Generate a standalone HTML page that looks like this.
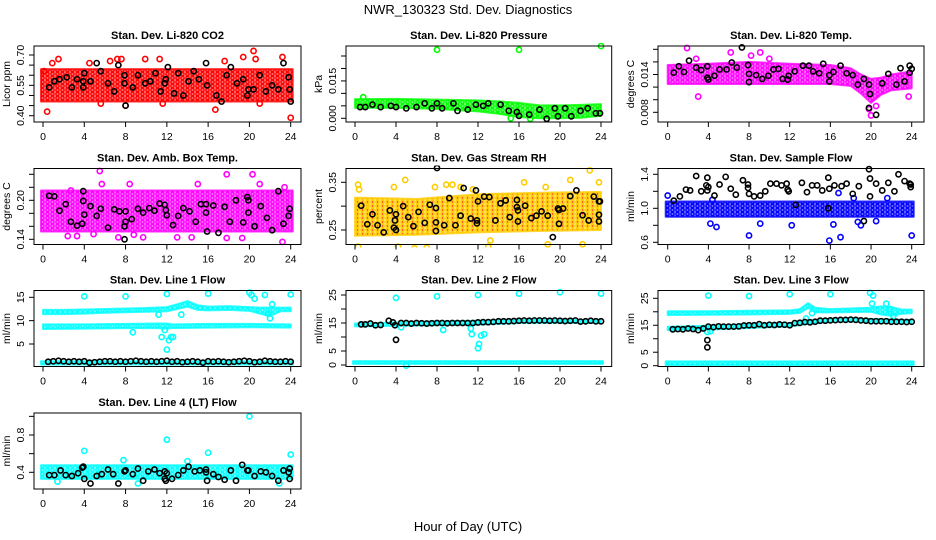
<!DOCTYPE html>
<html><head><meta charset="utf-8"><style>
html,body{margin:0;padding:0;background:#fff;}
svg{display:block;font-family:"Liberation Sans",sans-serif;}
</style></head><body>
<svg id="chart" width="936" height="540" viewBox="0 0 936 540" xmlns="http://www.w3.org/2000/svg">
<rect width="936" height="540" fill="#fff"/>
<text x="468" y="14" font-size="13" text-anchor="middle">NWR_130323  Std. Dev. Diagnostics</text>
<text x="468" y="531" font-size="13" text-anchor="middle">Hour of Day (UTC)</text>
<defs id="defs"></defs>
<g id="panels"></g>
</svg>
<script>
// ---------- shared axis data ----------
const xTicks = [0,4,8,12,16,20,24];

// P1 CO2
const p1BandX=[0,24], p1BandLo=[0.47,0.47], p1BandHi=[0.63,0.63];
const p1OutX=[0.1,0.4,0.9,1.5,4.5,6.5,7.2,7.6,8,9.9,11.3,11.6,16.7,17.6,19.4,20.4,20.6,23.2,24,21,5.6];
const p1OutY=[0.62,0.42,0.66,0.68,0.66,0.67,0.68,0.68,0.45,0.68,0.68,0.46,0.43,0.67,0.69,0.72,0.68,0.69,0.39,0.46,0.46];
const p1BlkX=[0.6,1.1,1.6,2.3,2.8,3.3,3.9,3.9,4,4.6,5.2,5.6,6.3,6.9,7.3,7.9,7.9,8,8.7,9.2,9.9,10.4,10.9,11.4,11.8,11.9,12.1,12.7,13.1,13.6,14.1,14.6,15.1,15.8,15.9,16.8,17.3,17.8,18.2,18.8,19.4,19.8,19.9,20.4,21,21.6,22.2,22.8,23.3,23.8,23.9,24];
const p1BlkY=[0.54,0.57,0.58,0.59,0.54,0.58,0.54,0.57,0.61,0.57,0.66,0.62,0.56,0.52,0.65,0.6,0.56,0.45,0.54,0.6,0.56,0.57,0.61,0.52,0.56,0.58,0.64,0.51,0.61,0.5,0.57,0.62,0.58,0.66,0.55,0.5,0.47,0.6,0.64,0.56,0.58,0.5,0.53,0.53,0.6,0.52,0.55,0.53,0.66,0.59,0.53,0.47];
const p1Ticks=[0.40,0.45,0.50,0.55,0.60,0.65,0.70], p1Labels=["0.40","","","0.55","","","0.70"];

// P2 pressure
const p2BandX=[0,4,8,12,14,16,18,20,22,24], p2BandLo=[0.0042,0.0042,0.0038,0.0028,0.0018,0.0005,0.0,0.0,0.0002,0.001], p2BandHi=[0.0077,0.0078,0.0075,0.0072,0.0068,0.0062,0.0052,0.0052,0.0054,0.0057];
const p2OutX=[8,16,24,0.8,15.2,17.1];
const p2OutY=[0.0275,0.0275,0.029,0.0085,0.0,-0.0002];
const p2BlkX=[0.5,1,1.7,2.5,3.5,4,5,6,6.8,7.5,8,8.5,9.6,10,11,11.8,12.5,13,14.2,15,15.8,16,17,18,18.7,19.5,19.8,20.5,21.1,22,22.7,23.5,23.9];
const p2BlkY=[0.0045,0.0045,0.0055,0.0045,0.005,0.0045,0.004,0.0045,0.006,0.004,0.006,0.004,0.006,0.003,0.0035,0.0055,0.005,0.006,0.0055,0.003,0.0025,0.001,0.0015,0.0035,-0.0002,0.004,0.0008,0.004,0.0008,0.003,0.004,0.002,0.002];
const p2Ticks=[0,0.005,0.010,0.015,0.020,0.025], p2Labels=["0.000","","","0.015","",""];

// P3 Li-820 temp
const p3BandX=[0,4,8,12,16,18,19,20,21,22,24], p3BandLo=[0.0125,0.0125,0.0125,0.0125,0.0125,0.0122,0.011,0.0095,0.0108,0.0115,0.0118], p3BandHi=[0.0155,0.0157,0.016,0.0157,0.0155,0.015,0.014,0.0133,0.0135,0.014,0.0145];
const p3OutX=[1.9,2.8,3,6.2,8.2,9.1,10,19.8,20,20.5,23.7];
const p3OutY=[0.0182,0.0165,0.0105,0.0175,0.017,0.0175,0.0165,0.0085,0.0075,0.009,0.0105];
const p3BlkX=[0.6,1.1,1.6,2.1,2.8,3.3,3.9,3.9,4,4.6,5.1,5.8,6.3,6.8,7.3,7.9,8,8,8.7,9.3,9.9,10.4,10.9,11.3,11.8,11.9,12.5,13.3,13.9,14.3,14.9,15.3,15.9,15.9,16.3,17,17.6,18.2,18.7,19.3,19.8,19.9,19.8,20.5,21.1,21.7,22.5,22.9,23.3,23.8,23.8,24];
const p3BlkY=[0.0143,0.0153,0.0144,0.0162,0.0151,0.0147,0.0153,0.0135,0.0132,0.0138,0.0148,0.0148,0.0159,0.0151,0.0183,0.0155,0.0141,0.0128,0.0139,0.0133,0.0138,0.0148,0.0149,0.0133,0.0132,0.0138,0.0145,0.0154,0.0154,0.0145,0.0142,0.0157,0.0139,0.0129,0.0144,0.0154,0.0142,0.0139,0.0124,0.0133,0.0124,0.0109,0.0087,0.0076,0.0126,0.0141,0.0124,0.015,0.0129,0.0143,0.0154,0.0149];
const p3Ticks=[0.008,0.010,0.012,0.014,0.016,0.018], p3Labels=["0.008","","","0.014","",""];

// P4 amb box temp
const p4BandX=[0,24], p4BandLo=[0.152,0.152], p4BandHi=[0.215,0.215];
const p4OutX=[5.5,5.7,2.7,8.4,15,17.8,20.3,21,23.4,23.2,3.3,2.4,7.3,9.7,14.4,17.8,19.3,13,8.8,4.9];
const p4OutY=[0.245,0.225,0.215,0.225,0.225,0.24,0.24,0.225,0.22,0.136,0.145,0.145,0.143,0.143,0.143,0.142,0.142,0.143,0.147,0.148];
const p4BlkX=[0.6,1.1,1.6,2.2,2.7,3.3,3.8,3.9,3.9,4,4.6,5.2,5.6,6.3,6.9,7.4,7.9,8,8,7.9,8.6,9.2,9.7,10.3,10.8,11.3,11.9,11.8,12,12.6,13.1,13.6,14.2,14.8,15.3,15.8,15.8,15.9,16.5,17,17.6,18.1,18.7,19.4,19.8,19.9,19.9,20.5,21.1,21.7,22.2,22.8,23.3,23.8,23.9];
const p4BlkY=[0.207,0.206,0.184,0.194,0.167,0.161,0.164,0.214,0.199,0.178,0.191,0.176,0.187,0.158,0.186,0.183,0.16,0.167,0.183,0.14,0.171,0.187,0.181,0.188,0.184,0.195,0.185,0.193,0.177,0.162,0.176,0.188,0.183,0.167,0.194,0.194,0.181,0.152,0.192,0.15,0.19,0.167,0.2,0.166,0.205,0.2,0.181,0.16,0.191,0.173,0.154,0.214,0.164,0.176,0.187];
const p4Ticks=[0.14,0.16,0.18,0.20,0.22,0.24], p4Labels=["0.14","","","0.20","",""];

// P5 gas stream RH
const p5BandX=[0,6,12,18,24], p5BandLo=[0.238,0.24,0.245,0.248,0.25], p5BandHi=[0.318,0.315,0.325,0.328,0.33];
const p5OutX=[0.3,0.4,0.3,1,3.8,4.2,4.9,5.8,7,7.8,8.9,9.5,10.3,11.5,13,13.2,16.5,18.6,18.8,21,22.2,22.9,23.8];
const p5OutY=[0.345,0.335,0.215,0.3,0.34,0.215,0.355,0.212,0.213,0.34,0.345,0.345,0.34,0.335,0.215,0.228,0.35,0.34,0.22,0.355,0.22,0.375,0.35];
const p5BlkX=[0.6,1.2,1.7,2.2,2.8,3.4,3.8,3.9,4,4,4.7,5.2,5.7,6.2,6.8,7.3,7.9,7.9,7.9,8,8.7,9.2,9.8,10.3,10.6,11.3,11.8,11.9,11.9,12,12.6,13.1,13.7,14.2,14.7,15.1,15.8,15.8,15.9,15.9,16.6,17.2,17.7,18.2,18.8,19.3,19.8,19.9,19.9,20.3,21,21.6,22.2,22.8,23.3,23.8,23.9,23.8,23.8];
const p5BlkY=[0.301,0.262,0.283,0.26,0.245,0.291,0.255,0.27,0.283,0.25,0.3,0.277,0.258,0.288,0.265,0.303,0.296,0.266,0.248,0.38,0.26,0.317,0.26,0.28,0.338,0.274,0.333,0.27,0.264,0.31,0.32,0.319,0.27,0.306,0.312,0.277,0.313,0.298,0.291,0.268,0.301,0.275,0.28,0.289,0.28,0.235,0.295,0.292,0.263,0.295,0.321,0.333,0.281,0.27,0.32,0.31,0.31,0.268,0.282];
const p5Ticks=[0.25,0.30,0.35], p5Labels=["0.25","","0.35"];

// P6 sample flow
const p6BandX=[0,24], p6BandLo=[0.9,0.9], p6BandHi=[1.08,1.08];
const p6OutX=[0,4.2,4.8,4.4,8,9.1,12.2,15.9,16.3,16.8,17,18.3,18.7,19,20.5,21.6,24];
const p6OutY=[1.15,0.82,0.78,1.1,0.68,0.82,0.8,0.62,0.81,1.18,0.66,1.12,0.84,0.8,0.85,1.12,0.68];
const p6BlkX=[0.6,1.2,1.8,2.2,2.8,3.3,3.8,3.9,3.9,4,4.6,5.1,5.7,6.2,6.7,7.4,7.9,7.9,8,8.5,9.1,9.6,10.1,10.7,11.2,11.7,11.8,11.9,12.6,13.2,13.7,14.2,14.7,15.2,15.8,15.9,15.8,16.4,17.1,17.6,18.2,18.8,19.3,19.8,19.9,19.9,20.5,21.1,21.7,22.3,22.7,23.3,23.8,23.9,23.9];
const p6BlkY=[1.09,1.14,1.22,1.21,1.38,1.2,1.27,1.36,1.21,1.25,1.15,1.28,1.37,1.23,1.16,1.33,1.28,1.24,1.17,1.14,1.15,1.2,1.29,1.29,1.27,1.29,1.22,1.2,1.04,1.3,1.19,1.27,1.27,1.21,1.36,1.23,1.0,1.27,1.26,1.29,1.17,1.26,0.85,1.46,1.14,1.35,1.29,1.21,1.3,1.2,1.4,1.32,1.29,1.25,1.28];
const p6Ticks=[0.6,0.8,1.0,1.2,1.4], p6Labels=["0.6","","1.0","","1.4"];

// P7 line 1 flow (three bands)
const p7BandX=[0,2,4,6,8,10,12,13,14,15,16,18,20,21,22,23,24], p7BandLo=[11.4,11.4,11.5,11.7,11.8,11.9,12.0,12.5,13.0,12.3,12.2,12.3,12.1,11.5,11.0,12.0,12.0], p7BandHi=[12.3,12.3,12.4,12.5,12.6,12.7,12.9,13.5,14.2,13.3,13.0,13.1,12.9,12.8,12.8,12.8,12.8];
const p7Band2X=[0,4,8,11,12,12.5,16,20,24], p7Band2Lo=[8.2,8.3,8.4,8.4,8.3,8.4,8.5,8.6,8.5], p7Band2Hi=[9.2,9.2,9.3,9.4,9.4,9.2,9.3,9.3,9.2];
const p7Band3X=[0,24], p7Band3Lo=[0.6,0.6], p7Band3Hi=[1.3,1.3];
const p7OutX=[4,8,12,16,20,20.2,20.5,21.5,24,11.5,12,12.2,12.4,12.6,11.8,8.7,11.2,13.4,22,21.8,22.2];
const p7OutY=[15.2,15.2,15.7,15.8,16,15.5,14.7,15.5,15.6,6.5,3.8,5.8,6.5,6.5,8,7.5,11.3,11.3,10.5,11.5,13.5];
const p7BlkX=[0.5,1,1.5,2,2.5,3,3.5,4,4.5,5,5.5,6,6.5,7,7.5,8,8.5,9,9.5,10,10.5,11,11.5,12,12.5,13,13.5,14,14.5,15,15.5,16,16.5,17,17.5,18,18.5,19,19.5,20,20.5,21,21.5,22,22.5,23,23.5,24];
const p7BlkY=[1.2,1.3,1.4,1.3,1.2,1.3,1.2,1.3,1.0,1.1,1.2,1.3,1.3,1.2,1.3,1.2,1.3,1.4,1.3,1.2,1.3,1.2,1.3,1.4,1.2,1.3,1.1,1.2,1.3,1.2,1.0,1.3,1.2,1.3,1.2,1.1,1.2,1.3,1.4,1.3,1.1,1.2,1.4,1.3,1.2,1.2,1.3,1.2];
const p7Ticks=[5,10,15], p7Labels=["5","10","15"];

// P8 line 2 flow
const p8BandX=[0,4,8,12,16,20,24], p8BandLo=[13.8,14.0,14.2,14.4,15.0,15.1,15.0], p8BandHi=[14.8,15.2,15.6,15.8,16.2,16.2,16.0];
const p8Band2X=[0,24], p8Band2Lo=[0.4,0.4], p8Band2Hi=[1.4,1.4];
const p8OutX=[4,8,12,16,20,24,8.6,11.3,11.4,12,12.1,12.3,12.6,4.5,5];
const p8OutY=[24,24.5,25,25.5,26,25.5,12.5,13,11,6,7.5,10.5,11,13.5,-0.2];
const p8BlkX=[0.6,1,1.5,2,2.5,3.3,3.7,3.9,4,4.5,5,5.5,6,6.5,7,7.5,8,8.5,9,9.5,10,10.5,11,11.5,12,12.5,13,13.5,14,14.5,15,15.5,16,16.5,17,17.5,18,18.5,19,19.5,20,20.5,21,21.5,22,22.5,23,23.5,24];
const p8BlkY=[14.5,14.5,14.8,14.2,14.3,15.8,15.2,14.2,9,15,15,14.8,15,14.9,14.8,14.9,15,15,14.9,15,15,15,15,15,15.2,15.3,15.3,15.4,15.6,15.6,15.6,15.7,15.8,15.9,15.8,15.9,15.9,15.9,15.8,15.9,15.8,15.7,15.8,15.9,15.5,15.6,15.8,15.6,15.6];
const p8Ticks=[0,5,10,15,20,25], p8Labels=["0","5","","15","","25"];

// P9 line 3 flow
const p9BandX=[0,4,8,12,13,13.8,14.5,16,20,21,22,23,24], p9BandLo=[18.8,18.9,19.0,19.2,19.6,21.5,19.8,19.8,20.0,19.0,18.5,19.2,19.5], p9BandHi=[20.2,20.2,20.4,20.5,21.0,23.2,21.5,21.0,21.5,22.0,21.8,20.8,20.8];
const p9Band2X=[0,4,8,12,14,16,18,20,24], p9Band2Lo=[13.2,13.4,14.0,14.6,15.6,16.3,16.5,16.2,16.0], p9Band2Hi=[14.4,14.8,15.4,15.8,16.8,17.4,17.6,17.3,17.0];
const p9Band3X=[0,24], p9Band3Lo=[0.2,0.2], p9Band3Hi=[1.6,1.6];
const p9OutX=[4,8,12,16,19.9,20.2,20.1,21.5,21.8,22.2,14.2,13.6,3.9,4.2];
const p9OutY=[26,25.8,26.5,26.5,27,26,23,23,21,18.5,19.5,17.5,12.5,12.8];
const p9BlkX=[0.5,1,1.5,2,2.5,3,3.5,4,3.9,3.9,4.5,5,5.5,6,6.5,7,7.5,8,8.5,9,9.5,10,10.5,11,11.5,12,12.5,13,13.5,14,14.5,15,15.5,16,16.5,17,17.5,18,18.5,19,19.5,20,20.5,21,21.5,22,22.5,23,23.5,24];
const p9BlkY=[13.5,13.6,13.5,13.8,13.6,13.2,13.8,14.5,9.5,6.8,14.3,14.6,14.5,14.5,14.5,14.6,14.9,15,15,15.4,15,15.2,15.1,15.3,15.2,15,15.8,15.9,16.2,16.1,16.3,16.7,16.7,16.8,16.9,17,17,17.1,17,16.8,16.7,16.5,16.5,16.5,16.5,16.3,16.3,16.3,16.2,16.3];
const p9Ticks=[0,5,10,15,20,25], p9Labels=["0","5","","15","","25"];

// P10 line 4 flow
const p10BandX=[0,24], p10BandLo=[0.33,0.33], p10BandHi=[0.475,0.475];
const p10OutX=[4,12,16,20,24,9.2,22.9,1.4,7.8,14];
const p10OutY=[0.63,0.75,0.61,1.0,0.59,0.28,0.28,0.3,0.53,0.52];
const p10BlkX=[0.6,1.1,1.7,2.2,2.8,3.4,3.8,3.9,4,4.6,5.2,5.7,6.3,6.8,7.3,7.9,8,8.7,9.2,9.7,10.2,10.8,11.3,11.8,11.8,11.9,12,12.5,13.1,13.6,14.1,14.7,15.2,15.8,15.8,15.9,16.5,17,17.6,18.2,18.7,19.3,19.8,19.9,20.5,21.1,21.6,22.2,22.8,23.3,23.8,23.9,23.9];
const p10BlkY=[0.37,0.37,0.42,0.37,0.36,0.39,0.45,0.46,0.33,0.28,0.36,0.38,0.43,0.38,0.28,0.41,0.42,0.38,0.44,0.31,0.41,0.43,0.39,0.41,0.33,0.31,0.39,0.33,0.37,0.42,0.46,0.41,0.42,0.43,0.4,0.31,0.38,0.35,0.32,0.42,0.31,0.48,0.42,0.42,0.36,0.41,0.4,0.36,0.31,0.42,0.4,0.33,0.44];
const p10Ticks=[0.4,0.6,0.8,1.0], p10Labels=["0.4","","0.8",""];

// ---------- layout ----------
const colBox=[[34,301],[346,611.7],[658,924]];
const colX=[[43,290.7],[355,601],[667.7,911.7]];
const rowTop=[46,168.5,290.5,413];
const BOXH=76;

const panels=[
 {name:"co2",title:"Stan. Dev. Li-820 CO2",ylab:"Licor ppm",col:0,row:0,color:"#ff0000",y0:0.40,p0:115.7,y1:0.70,p1:55,
  bands:[[p1BandX,p1BandLo,p1BandHi]],ox:p1OutX,oy:p1OutY,bx:p1BlkX,by:p1BlkY,ticks:p1Ticks,labels:p1Labels},
 {name:"pressure",title:"Stan. Dev. Li-820 Pressure",ylab:"kPa",col:1,row:0,color:"#00ff00",y0:0,p0:118.3,y1:0.025,p1:56,
  bands:[[p2BandX,p2BandLo,p2BandHi]],ox:p2OutX,oy:p2OutY,bx:p2BlkX,by:p2BlkY,ticks:p2Ticks,labels:p2Labels},
 {name:"licor-temp",title:"Stan. Dev. Li-820 Temp.",ylab:"degrees C",col:2,row:0,color:"#ff00ff",y0:0.008,p0:112.3,y1:0.018,p1:49.3,
  bands:[[p3BandX,p3BandLo,p3BandHi]],ox:p3OutX,oy:p3OutY,bx:p3BlkX,by:p3BlkY,ticks:p3Ticks,labels:p3Labels},
 {name:"amb-box-temp",title:"Stan. Dev. Amb. Box Temp.",ylab:"degrees C",col:0,row:1,color:"#ff00ff",y0:0.14,p0:239.3,y1:0.24,p1:174.3,
  bands:[[p4BandX,p4BandLo,p4BandHi]],ox:p4OutX,oy:p4OutY,bx:p4BlkX,by:p4BlkY,ticks:p4Ticks,labels:p4Labels},
 {name:"gas-rh",title:"Stan. Dev. Gas Stream RH",ylab:"percent",col:1,row:1,color:"#ffcc00",inner:"#ff2200",y0:0.25,p0:230,y1:0.35,p1:182.3,
  bands:[[p5BandX,p5BandLo,p5BandHi]],ox:p5OutX,oy:p5OutY,bx:p5BlkX,by:p5BlkY,ticks:p5Ticks,labels:p5Labels},
 {name:"sample-flow",title:"Stan. Dev. Sample Flow",ylab:"ml/min",col:2,row:1,color:"#0000ff",y0:0.6,p0:242.3,y1:1.4,p1:174.3,
  bands:[[p6BandX,p6BandLo,p6BandHi]],ox:p6OutX,oy:p6OutY,bx:p6BlkX,by:p6BlkY,ticks:p6Ticks,labels:p6Labels},
 {name:"line1-flow",title:"Stan. Dev. Line 1 Flow",ylab:"ml/min",col:0,row:2,color:"#00ffff",y0:5,p0:344,y1:15,p1:297.3,
  bands:[[p7BandX,p7BandLo,p7BandHi],[p7Band2X,p7Band2Lo,p7Band2Hi],[p7Band3X,p7Band3Lo,p7Band3Hi]],ox:p7OutX,oy:p7OutY,bx:p7BlkX,by:p7BlkY,ticks:p7Ticks,labels:p7Labels},
 {name:"line2-flow",title:"Stan. Dev. Line 2 Flow",ylab:"ml/min",col:1,row:2,color:"#00ffff",y0:0,p0:365,y1:25,p1:295,
  bands:[[p8BandX,p8BandLo,p8BandHi],[p8Band2X,p8Band2Lo,p8Band2Hi]],ox:p8OutX,oy:p8OutY,bx:p8BlkX,by:p8BlkY,ticks:p8Ticks,labels:p8Labels},
 {name:"line3-flow",title:"Stan. Dev. Line 3 Flow",ylab:"ml/min",col:2,row:2,color:"#00ffff",y0:0,p0:365.7,y1:25,p1:298.3,
  bands:[[p9BandX,p9BandLo,p9BandHi],[p9Band2X,p9Band2Lo,p9Band2Hi],[p9Band3X,p9Band3Lo,p9Band3Hi]],ox:p9OutX,oy:p9OutY,bx:p9BlkX,by:p9BlkY,ticks:p9Ticks,labels:p9Labels},
 {name:"line4-flow",title:"Stan. Dev. Line 4 (LT) Flow",ylab:"ml/min",col:0,row:3,color:"#00ffff",y0:0.4,p0:472.3,y1:0.8,p1:435,
  bands:[[p10BandX,p10BandLo,p10BandHi]],ox:p10OutX,oy:p10OutY,bx:p10BlkX,by:p10BlkY,ticks:p10Ticks,labels:p10Labels}
];

const NS="http://www.w3.org/2000/svg";
const root=document.getElementById('panels');
const defs=document.getElementById('defs');
function mk(tag,attrs,parent){const e=document.createElementNS(NS,tag);for(const k in attrs)e.setAttribute(k,attrs[k]);parent.appendChild(e);return e;}

panels.forEach(p=>{
  // ring pattern to mimic dense overlapping open circles
  const patId='pat-'+p.name;
  const pat=mk('pattern',{id:patId,width:5,height:4,patternUnits:'userSpaceOnUse'},defs);
  mk('rect',{width:5,height:4,fill:p.color,'fill-opacity':0.55},pat);
  mk('circle',{cx:2.5,cy:2,r:1.6,fill:'none',stroke:p.color,'stroke-width':1.3},pat);
  if(p.inner) mk('circle',{cx:2.5,cy:2,r:0.7,fill:p.inner},pat);

  const g=mk('g',{},root);
  
  
  const [bl,br]=colBox[p.col]; const bt=rowTop[p.row], bb=bt+BOXH;
  const [xa,xb]=colX[p.col];
  const sx=h=>xa+(xb-xa)*h/24;
  const sy=v=>p.p0+(p.p1-p.p0)*(v-p.y0)/(p.y1-p.y0);
  const clipId='clip-'+p.name;
  const cp=mk('clipPath',{id:clipId},g); mk('rect',{x:bl-3,y:bt-3,width:br-bl+6,height:BOXH+6},cp);
  const dg=mk('g',{'clip-path':'url(#'+clipId+')'},g);
  const stroke=p.color;
  p.bands.forEach(b=>{
    const [bx,lo,hi]=b;
    const px=i=>bx.length===2?(i===0?sx(bx[i])-2:sx(bx[i])+2):sx(bx[i]);
    let d='';
    bx.forEach((x,i)=>{d+=(i?'L':'M')+px(i)+','+sy(hi[i]);});
    for(let i=bx.length-1;i>=0;i--){d+='L'+px(i)+','+sy(lo[i]);}
    d+='Z';
    const path=mk('path',{d:d,fill:'url(#'+patId+')',stroke:stroke,'stroke-width':2,'stroke-opacity':0.8,'stroke-linejoin':'round'},dg);
    
    
  });
  p.ox.forEach((x,i)=>{
    const c=mk('circle',{cx:sx(x),cy:sy(p.oy[i]),r:2.6,fill:'none',stroke:stroke,'stroke-width':1.6},dg);
    
    
  });
  p.bx.forEach((x,i)=>{
    const c=mk('circle',{cx:sx(x),cy:sy(p.by[i]),r:2.6,fill:'none',stroke:'#000','stroke-width':1.6},dg);
    
    
  });
  const box=mk('rect',{x:bl,y:bt,width:br-bl,height:BOXH,fill:'none',stroke:'#000','stroke-width':1},g);
  
  
  const t=mk('text',{x:(bl+br)/2,y:bt-7,'font-size':11,'font-weight':'bold','text-anchor':'middle'},g);
  t.textContent=p.title;
  
  
  xTicks.forEach(h=>{
    mk('line',{x1:sx(h),x2:sx(h),y1:bb,y2:bb+5,stroke:'#000'},g);
    const tl=mk('text',{x:sx(h),y:bb+18,'font-size':10.5,'text-anchor':'middle'},g);
    tl.textContent=h;
    
    
  });
  p.ticks.forEach((v,i)=>{
    const y=sy(v);
    mk('line',{x1:bl-5,x2:bl,y1:y,y2:y,stroke:'#000'},g);
    if(p.labels[i]){
      const tl=mk('text',{x:bl-10,y:y,'font-size':10.5,'text-anchor':'middle',transform:`rotate(-90 ${bl-10} ${y})`},g);
      tl.textContent=p.labels[i];
      
      
    }
  });
  const yl=mk('text',{x:bl-24,y:bt+BOXH/2,'font-size':10.5,'text-anchor':'middle',transform:`rotate(-90 ${bl-24} ${bt+BOXH/2})`},g);
  yl.textContent=p.ylab;
  
  
});
</script>
</body></html>
